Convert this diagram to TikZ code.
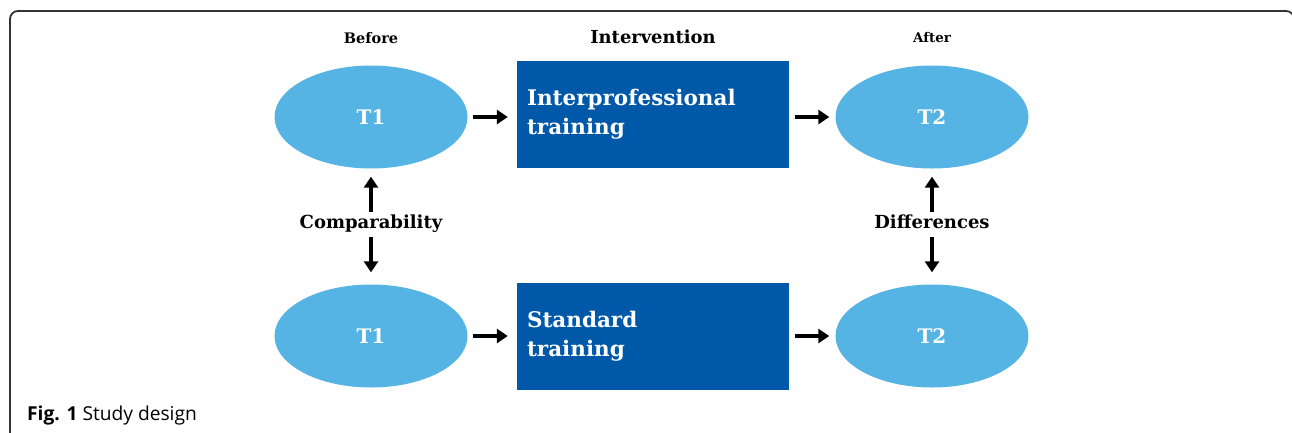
\documentclass[tikz,border=0pt]{standalone}
\usepackage{fontspec}
\setmainfont{DejaVu Serif}
\newfontfamily\capfont{Open Sans}
\usetikzlibrary{arrows.meta,shapes.geometric,positioning}
\definecolor{skyblue}{RGB}{86,180,228}
\definecolor{deepblue}{RGB}{0,88,168}
\tikzset{
  time_/.style  = {shape=ellipse, fill=skyblue, inner sep=0pt, minimum width=193pt, minimum height=103pt, text=white, font=\fontsize{20}{24}\selectfont\bfseries},
  train_/.style = {shape=rectangle, fill=deepblue, inner sep=0pt, minimum width=272pt, minimum height=107pt, text width=252pt, align=left, text=white, font=\fontsize{21.5}{29}\selectfont\bfseries},
  head_/.style  = {font=\fontsize{14.5}{17}\selectfont\bfseries},
  mid_/.style   = {font=\fontsize{18}{21}\selectfont\bfseries, inner sep=0pt, text height=14pt, text depth=5pt, anchor=base},
  link_/.style  = {draw, line width=3.2pt, -{Triangle[length=11pt, width=14pt]}}
}

\begin{document}
\begin{tikzpicture}[x=1pt, y=-1pt]
	\path[use as bounding box, clip] (0,0) rectangle (1292,432);
	\fill[white] (0,0) rectangle (1292,432);
	% frame
	\draw[line width=1.8pt, black!80, rounded corners=8pt] (10,440) |- (1294,11) -- (1294,440);
	% top row
	\node [time_] (t1top) at (371,117) {T1};
	\node [train_] (inter) at (653,114.5) {Interprofessional\\training};
	\node [time_] (t2top) at (932,117) {T2};
	% bottom row
	\node [time_] (t1bot) at (371,336) {T1};
	\node [train_] (stand) at (653,336) {Standard\\training};
	\node [time_] (t2bot) at (932,336) {T2};
	% headings
	\node [head_] (before) at (371,38) {Before};
	\node [head_, font=\fontsize{17.9}{20}\selectfont\bfseries] (interv) at (653,37) {Intervention};
	\node [head_, font=\fontsize{13.4}{16}\selectfont\bfseries] (after) at (932,38) {After};
	\node [mid_] (comp) at (371,228) {Comparability};
	\node [mid_] (diff) at (932,228) {Differences};
	% arrows
	\draw [link_, shorten <=5pt, shorten >=9pt] (t1top.east) -- (t1top.east -| inter.west);
	\draw [link_, shorten <=6pt, shorten >=6pt] (inter.east |- t2top.west) -- (t2top.west);
	\draw [link_, shorten <=5pt, shorten >=9pt] (t1bot.east) -- (t1bot.east -| stand.west);
	\draw [link_, shorten <=6pt, shorten >=6pt] (stand.east |- t2bot.west) -- (t2bot.west);
	\draw [link_, shorten <=2pt, shorten >=8pt] (comp.north) -- (t1top.south);
	\draw [link_, shorten <=4pt, shorten >=12pt] (comp.south) -- (t1bot.north);
	\draw [link_, shorten <=2pt, shorten >=8pt] (diff.north) -- (t2top.south);
	\draw [link_, shorten <=4pt, shorten >=12pt] (diff.south) -- (t2bot.north);
	% caption
	\node [anchor=west, inner sep=0pt, font=\capfont\fontsize{19.2}{22}\selectfont] (cap) at (27,416) {\textbf{Fig. 1} Study design};
\end{tikzpicture}
\end{document}
